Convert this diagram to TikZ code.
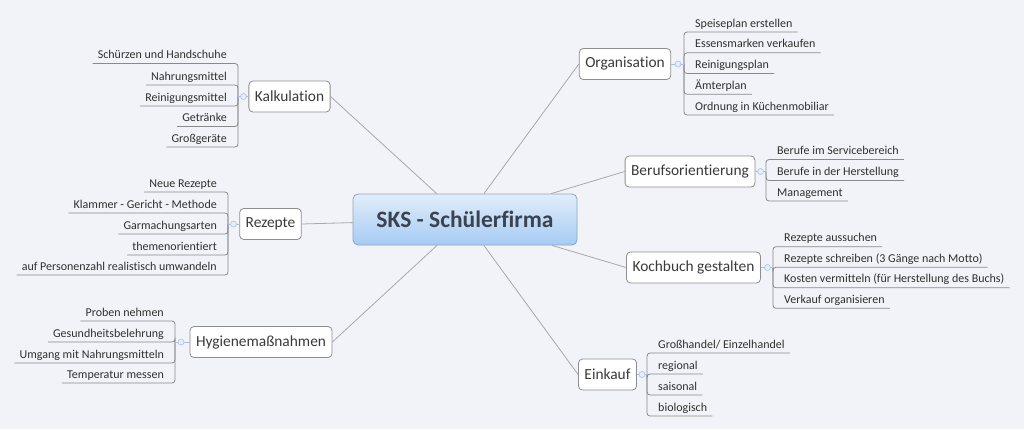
\documentclass[tikz,border=0pt]{standalone}
\usepackage{fontspec}
\setmainfont[Ligatures=CommonOff]{Carlito}
\definecolor{bgc}{HTML}{F2F3F8}
\definecolor{topicborder}{HTML}{8E8E8E}
\definecolor{topictext}{HTML}{3A3A3A}
\definecolor{subtext}{HTML}{303030}
\definecolor{mainlc}{HTML}{A8A8A8}
\definecolor{sublc}{HTML}{8A8A8A}
\definecolor{knobc}{HTML}{A9C2E2}
\definecolor{knobfill}{HTML}{E6EEF9}
\definecolor{ctop}{HTML}{E2EDFA}
\definecolor{cbot}{HTML}{A5CBF3}
\definecolor{cborder}{HTML}{8DA6C4}
\definecolor{ctext}{HTML}{3B4350}
\begin{document}
\begin{tikzpicture}[x=1pt,y=-1pt,
  topic/.style={draw=topicborder, fill=white, rounded corners=4pt, inner xsep=6pt,
    minimum height=31pt, line width=0.8pt, font=\fontsize{15.4}{18}\selectfont, text=topictext},
  centertopic/.style={draw=cborder, top color=ctop, bottom color=cbot, rounded corners=5pt,
    minimum width=224pt, minimum height=51pt, line width=0.8pt,
    font=\fontsize{23.5}{26}\selectfont\bfseries, text=ctext},
  subR/.style={anchor=south west, inner xsep=5pt, inner ysep=4.8pt, text depth=0pt,
    font=\fontsize{12}{14}\selectfont, text=subtext},
  subL/.style={subR, anchor=south east},
  mainline/.style={draw=mainlc, line width=0.8pt},
  subline/.style={draw=sublc, line width=0.8pt, rounded corners=3pt},
  knobline/.style={draw=knobc, line width=0.8pt},
  knobstyle/.style={circle, draw=knobc, fill=knobfill, inner sep=0pt, minimum size=6pt, line width=0.6pt},
]
\fill[bgc] (0,0) rectangle (1024,429);
\useasboundingbox (0,0) rectangle (1024,429);

% central and main topics
\node[centertopic] (c) at (465,219.5) {SKS - Schülerfirma};
\node[topic] (kal) at (289.5,96.5) {Kalkulation};
\node[topic] (rez) at (270.5,224) {Rezepte};
\node[topic] (hyg) at (261,342) {Hygienemaßnahmen};
\node[topic] (org) at (625,64) {Organisation};
\node[topic] (ber) at (690,171.5) {Berufsorientierung};
\node[topic] (koc) at (693.5,267.5) {Kochbuch gestalten};
\node[topic] (ein) at (607.5,374.5) {Einkauf};

\draw[mainline] (kal.east) -- (c);
\draw[mainline] (rez.east) -- (c);
\draw[mainline] (hyg.east) -- (c);
\draw[mainline] (org.west) -- (c);
\draw[mainline] (ber.west) -- (c);
\draw[mainline] (koc.west) -- (c);
\draw[mainline] (ein.west) -- (c);

% bracket points
\coordinate (kal-b) at (238,96.5);
\coordinate (rez-b) at (228,224);
\coordinate (hyg-b) at (175,342);
\coordinate (org-b) at (684,64);
\coordinate (ber-b) at (766,171.5);
\coordinate (koc-b) at (773,267.5);
\coordinate (ein-b) at (647,374.5);

% Organisation
\node[subR] (o1) at (690,32) {Speiseplan erstellen};
\node[subR] (o2) at (690,52.75) {Essensmarken verkaufen};
\node[subR] (o3) at (690,73.5) {Reinigungsplan};
\node[subR] (o4) at (690,94.25) {Ämterplan};
\node[subR] (o5) at (690,115) {Ordnung in Küchenmobiliar};
\foreach \n in {o1,o2,o3,o4,o5} \draw[subline] (org-b) |- (\n.south east);

% Berufsorientierung
\node[subR] (b1) at (772,159.5) {Berufe im Servicebereich};
\node[subR] (b2) at (772,180.5) {Berufe in der Herstellung};
\node[subR] (b3) at (772,201) {Management};
\foreach \n in {b1,b2,b3} \draw[subline] (ber-b) |- (\n.south east);

% Kochbuch
\node[subR] (k1) at (779,246.7) {Rezepte aussuchen};
\node[subR] (k2) at (779,267.3) {Rezepte schreiben (3 Gänge nach Motto)};
\node[subR] (k3) at (779,287.7) {Kosten vermitteln (für Herstellung des Buchs)};
\node[subR] (k4) at (779,308.3) {Verkauf organisieren};
\foreach \n in {k1,k2,k3,k4} \draw[subline] (koc-b) |- (\n.south east);

% Einkauf
\node[subR] (e1) at (653,353) {Großhandel/ Einzelhandel};
\node[subR] (e2) at (653,374) {regional};
\node[subR] (e3) at (653,395) {saisonal};
\node[subR] (e4) at (653,416) {biologisch};
\foreach \n in {e1,e2,e3,e4} \draw[subline] (ein-b) |- (\n.south east);

% Kalkulation
\node[subL] (a1) at (232,63.5) {Schürzen und Handschuhe};
\node[subL] (a2) at (232,85) {Nahrungsmittel};
\node[subL] (a3) at (232,106) {Reinigungsmittel};
\node[subL] (a4) at (232,126.5) {Getränke};
\node[subL] (a5) at (232,147) {Großgeräte};
\foreach \n in {a1,a2,a3,a4,a5} \draw[subline] (kal-b) |- (\n.south west);

% Rezepte
\node[subL] (r1) at (222,192) {Neue Rezepte};
\node[subL] (r2) at (222,213) {Klammer - Gericht - Methode};
\node[subL] (r3) at (222,234) {Garmachungsarten};
\node[subL] (r4) at (222,255) {themenorientiert};
\node[subL] (r5) at (222,275) {auf Personenzahl realistisch umwandeln};
\foreach \n in {r1,r2,r3,r4,r5} \draw[subline] (rez-b) |- (\n.south west);

% Hygiene
\node[subL] (h1) at (169,321) {Proben nehmen};
\node[subL] (h2) at (169,342) {Gesundheitsbelehrung};
\node[subL] (h3) at (169,363) {Umgang mit Nahrungsmitteln};
\node[subL] (h4) at (169,383) {Temperatur messen};
\foreach \n in {h1,h2,h3,h4} \draw[subline] (hyg-b) |- (\n.south west);

% collapse knobs
\draw[knobline] (kal.west) -- (kal-b);
\draw[knobline] (rez.west) -- (rez-b);
\draw[knobline] (hyg.west) -- (hyg-b);
\draw[knobline] (org.east) -- (org-b);
\draw[knobline] (ber.east) -- (ber-b);
\draw[knobline] (koc.east) -- (koc-b);
\draw[knobline] (ein.east) -- (ein-b);
\node[knobstyle] (kal-k) at (243.5,96.5) {};
\node[knobstyle] (rez-k) at (233.5,224) {};
\node[knobstyle] (hyg-k) at (181,342) {};
\node[knobstyle] (org-k) at (678,64) {};
\node[knobstyle] (ber-k) at (760.5,171.5) {};
\node[knobstyle] (koc-k) at (767.5,267.5) {};
\node[knobstyle] (ein-k) at (642,374.5) {};
\end{tikzpicture}
\end{document}
